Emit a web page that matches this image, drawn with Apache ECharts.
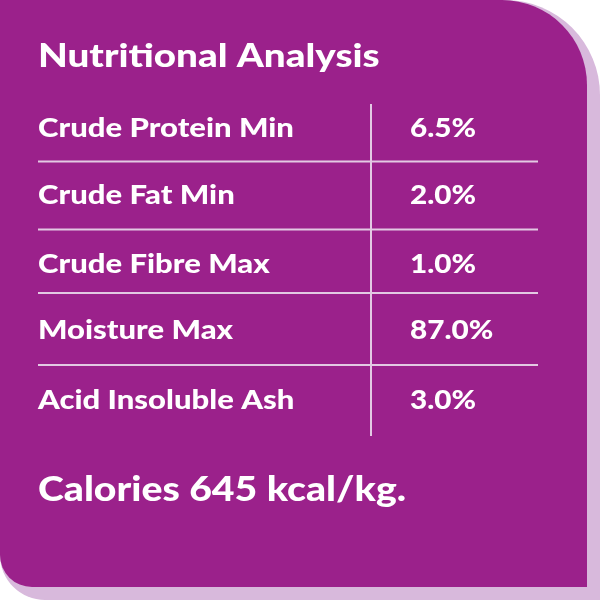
<!DOCTYPE html>
<html><head><meta charset="utf-8">
<script src="https://cdn.jsdelivr.net/npm/echarts@6/dist/echarts.min.js"></script>
<style>html,body{margin:0;padding:0;background:#fff}#c{width:600px;height:600px}</style>
</head><body><div id="c"></div>
<script>
const title = "Nutritional Analysis";
const nutrients = ["Crude Protein Min","Crude Fat Min","Crude Fibre Max","Moisture Max","Acid Insoluble Ash"];
const values = ["6.5%","2.0%","1.0%","87.0%","3.0%"];
const footer = "Calories 645 kcal/kg.";

const chart = echarts.init(document.getElementById('c'));
const font = 'Lato, "Open Sans", sans-serif';
function txt(t,x,y,size,sx){
  return {type:'text',x:x,y:y,scaleX:sx,style:{text:t,x:0,y:0,fill:'#fff',font:'900 '+size+'px '+font,textVerticalAlign:'middle'}};
}
const els = [
  {type:'rect',shape:{x:0,y:0,width:600,height:600,r:[0,95,0,45]},style:{fill:'#d8b9dc'}},
  {type:'rect',shape:{x:0,y:0,width:587,height:587,r:[0,85,0,32]},style:{fill:'#9b218b'}},
  txt(title,38,56,33,1.17),
  txt(footer,38,490,35,1.12),
  {type:'line',shape:{x1:371,y1:104,x2:371,y2:436},style:{stroke:'#e3c9e3',lineWidth:2}}
];
const rowY = [128,195,264,330,400];
nutrients.forEach((n,i)=>{
  els.push(txt(n,38,rowY[i],27,1.15));
  els.push(txt(values[i],410,rowY[i],27,1.1));
  if(i<nutrients.length-1){
    const ly=(rowY[i]+rowY[i+1])/2+(i===2?-4:0);
    els.push({type:'line',shape:{x1:38,y1:ly,x2:538,y2:ly},style:{stroke:'#e3c9e3',lineWidth:2}});
  }
});
chart.setOption({animation:false,graphic:{elements:els}});
</script></body></html>
